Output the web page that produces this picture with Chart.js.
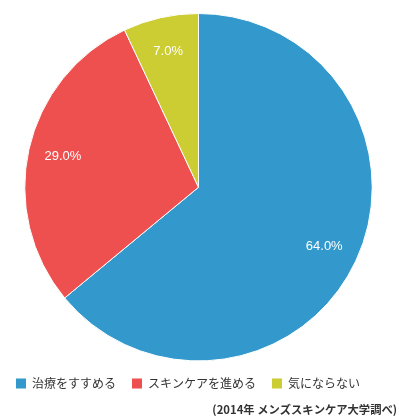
<!DOCTYPE html>
<html>
<head>
<meta charset="utf-8">
<script src="https://cdn.jsdelivr.net/npm/chart.js@4/dist/chart.umd.min.js"></script>
<style>
  html, body { margin: 0; padding: 0; background: #fff; }
  #wrap { width: 399px; height: 420px; }
</style>
</head>
<body>
<div id="wrap"><canvas id="pieChart"></canvas></div>
<script>
// Chart data
const categories = ["治療をすすめる", "スキンケアを進める", "気にならない"];
const shares = [64.0, 29.0, 7.0];
const sliceColors = ["#3399cc", "#ee4f4f", "#cccc33"];
const sourceNote = "(2014年 メンズスキンケア大学調べ)";

// Percent labels inside each slice
const sliceLabels = {
    id: "sliceLabels",
    afterDatasetsDraw(chart) {
        const ctx = chart.ctx;
        const meta = chart.getDatasetMeta(0);
        ctx.save();
        ctx.font = "13px 'Liberation Sans', Arial, sans-serif";
        ctx.fillStyle = "#fff";
        ctx.textAlign = "center";
        ctx.textBaseline = "middle";
        meta.data.forEach((arc, i) => {
            const p = arc.getProps(["x", "y", "startAngle", "endAngle", "outerRadius"], true);
            const mid = (p.startAngle + p.endAngle) / 2;
            const r = p.outerRadius * 0.8;
            ctx.fillText(shares[i].toFixed(1) + "%", p.x + Math.cos(mid) * r, p.y + Math.sin(mid) * r);
        });
        ctx.restore();
    }
};

const ctx = document.getElementById("pieChart").getContext("2d");
new Chart(ctx, {
    type: "pie",
    data: {
        labels: categories,
        datasets: [{
            data: shares,
            backgroundColor: sliceColors,
            borderColor: "#fff",
            borderWidth: 1
        }]
    },
    options: {
        responsive: true,
        maintainAspectRatio: false,
        animation: false,
        layout: { padding: { top: 13, right: 2 } },
        plugins: {
            tooltip: { enabled: false },
            legend: {
                position: "bottom",
                align: "start",
                maxHeight: 36,
                labels: {
                    boxWidth: 10,
                    boxHeight: 10,
                    padding: 16,
                    color: "#333",
                    font: { size: 12, family: "'Noto Sans CJK JP', sans-serif" },
                    // no white outline round the legend boxes
                    generateLabels: (chart) =>
                        Chart.overrides.pie.plugins.legend.labels.generateLabels(chart)
                            .map(l => ({ ...l, lineWidth: 0 }))
                }
            },
            title: {
                display: true,
                text: sourceNote,
                position: "bottom",
                align: "end",
                color: "#333",
                padding: { top: 5, bottom: 4 },
                font: { size: 11.3, weight: "bold", family: "'Noto Sans CJK JP', sans-serif" }
            }
        }
    },
    plugins: [sliceLabels]
});
</script>
</body>
</html>
